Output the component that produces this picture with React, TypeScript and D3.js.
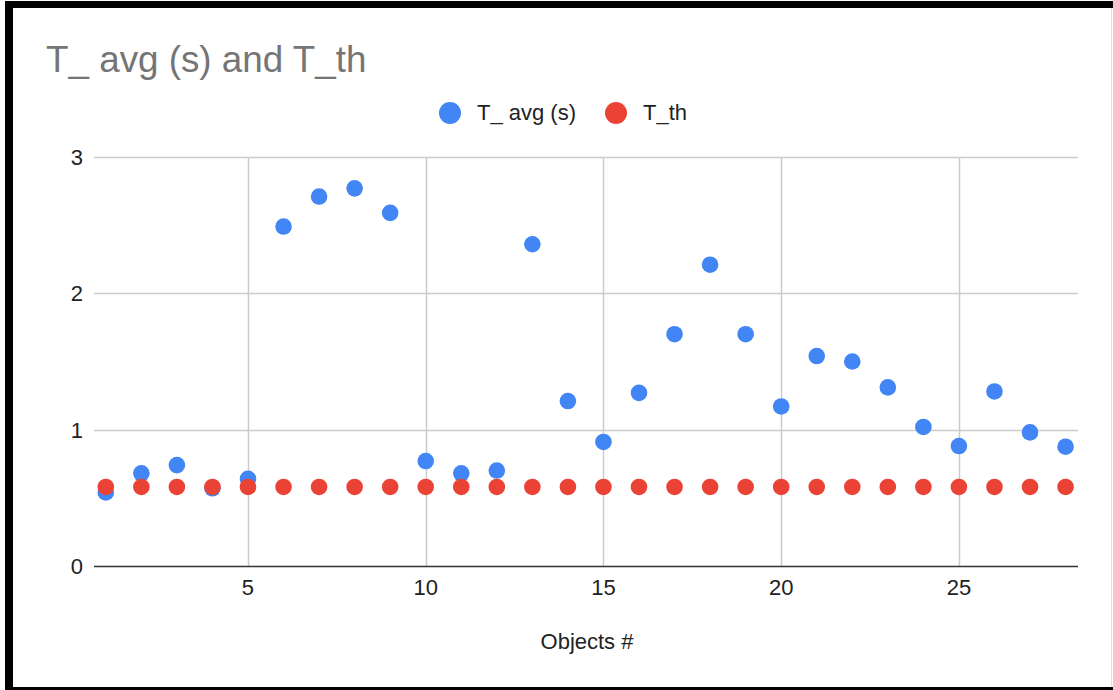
import React from "react";
import * as d3 from "d3";

const objects: number[] = Array.from({ length: 28 }, (_, i) => i + 1);
const tAvg: number[] = [
  0.54, 0.68, 0.74, 0.57, 0.64, 2.49, 2.71, 2.77, 2.59, 0.77, 0.68, 0.7, 2.36, 1.21,
  0.91, 1.27, 1.7, 2.21, 1.7, 1.17, 1.54, 1.5, 1.31, 1.02, 0.88, 1.28, 0.98, 0.875,
];
const tTh: number[] = objects.map(() => 0.58);
const xTicks: number[] = [5, 10, 15, 20, 25];
const yTicks: number[] = [0, 1, 2, 3];
const seriesNames = ["T_ avg (s)", "T_th"];
const colors = ["#4285f4", "#ea4335"];

const W = 1113;
const H = 690;
const FONT = "Arial, 'Liberation Sans', sans-serif";

export default function App() {
  const x = d3.scaleLinear().domain([0.668, 28.35]).range([94, 1078]);
  const y = d3.scaleLinear().domain([0, 3]).range([566, 157]);
  const r = 8.3;

  return (
    <svg
      width={W}
      height={H}
      style={{ position: "absolute", left: 0, top: 0, background: "#fff" }}
      fontFamily={FONT}
    >
      <rect x={0} y={0} width={W} height={H} fill="#fff" />
      {/* frame */}
      <rect x={5} y={1} width={W - 5} height={7} fill="#000" />
      <rect x={5} y={1} width={8} height={H - 1} fill="#000" />
      <rect x={5} y={687} width={W - 5} height={3} fill="#000" />
      <line x1={1111.5} x2={1111.5} y1={8} y2={687} stroke="#e0e0e0" strokeWidth={1} />

      {/* title */}
      <text x={46} y={72} fontSize={36.8} fill="#757575">
        T_ avg (s) and T_th
      </text>

      {/* legend */}
      <circle cx={450} cy={113} r={11} fill={colors[0]} />
      <text x={477} y={120} fontSize={22} fill="#222">
        {seriesNames[0]}
      </text>
      <circle cx={616} cy={113} r={11} fill={colors[1]} />
      <text x={643} y={120} fontSize={22} fill="#222">
        {seriesNames[1]}
      </text>

      {/* gridlines */}
      {yTicks
        .filter((t) => t !== 0)
        .map((t) => (
          <line
            key={"hy" + t}
            x1={94}
            x2={1078}
            y1={Math.round(y(t)) + 0.5}
            y2={Math.round(y(t)) + 0.5}
            stroke="#cccccc"
            strokeWidth={1.5}
          />
        ))}
      {xTicks.map((t) => (
        <line
          key={"vx" + t}
          x1={Math.round(x(t)) + 0.5}
          x2={Math.round(x(t)) + 0.5}
          y1={157}
          y2={566}
          stroke="#cccccc"
          strokeWidth={1.5}
        />
      ))}
      {/* baseline */}
      <line x1={94} x2={1078} y1={y(0) + 0.5} y2={y(0) + 0.5} stroke="#333" strokeWidth={1.5} />

      {/* y tick labels */}
      {yTicks.map((t) => (
        <text
          key={"yl" + t}
          x={83}
          y={y(t) + 8}
          fontSize={22}
          fill="#222"
          textAnchor="end"
        >
          {t}
        </text>
      ))}
      {/* x tick labels */}
      {xTicks.map((t) => (
        <text key={"xl" + t} x={x(t)} y={595} fontSize={22} fill="#222" textAnchor="middle">
          {t}
        </text>
      ))}
      <text x={587} y={649} fontSize={22} fill="#222" textAnchor="middle">
        Objects #
      </text>

      {/* points */}
      {objects.map((o, i) => (
        <circle key={"a" + o} cx={x(o)} cy={y(tAvg[i])} r={r} fill={colors[0]} />
      ))}
      {objects.map((o, i) => (
        <circle key={"t" + o} cx={x(o)} cy={y(tTh[i])} r={r} fill={colors[1]} />
      ))}
    </svg>
  );
}
